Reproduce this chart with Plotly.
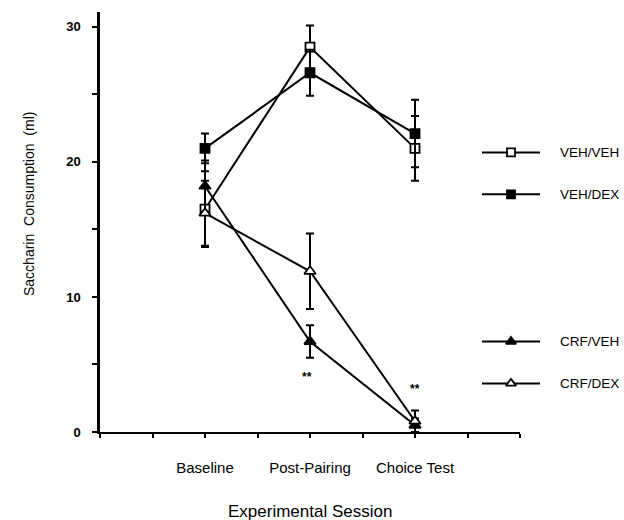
import plotly.graph_objects as go

sessions = ["Baseline", "Post-Pairing", "Choice Test"]
session_x = [1, 2, 3]

veh_veh = [16.5, 28.5, 21.0]
veh_veh_err = [2.8, 1.6, 2.4]
veh_dex = [21.0, 26.6, 22.1]
veh_dex_err = [1.1, 1.7, 2.5]
crf_veh = [18.2, 6.7, 0.5]
crf_veh_err = [1.9, 1.2, 0.5]
crf_dex = [16.2, 11.9, 0.8]
crf_dex_err = [2.4, 2.8, 0.8]

series = [
    ("VEH/VEH", veh_veh, veh_veh_err, "square", "white", 9),
    ("VEH/DEX", veh_dex, veh_dex_err, "square", "black", 9),
    ("CRF/VEH", crf_veh, crf_veh_err, "triangle-up", "black", 10),
    ("CRF/DEX", crf_dex, crf_dex_err, "triangle-up", "white", 10),
]
legend_y = [20.7, 17.6, 6.7, 3.6]
sig_marks = [(1.97, 4.1, "**"), (3.0, 3.2, "**")]

FONT = "Liberation Sans, Arial, sans-serif"
fig = go.Figure()

for name, vals, err, sym, fill, size in series:
    fig.add_trace(go.Scatter(
        x=session_x, y=vals, mode="lines+markers", name=name,
        line=dict(color="black", width=2),
        marker=dict(symbol=sym, size=size, color=fill, line=dict(color="black", width=1.8)),
        error_y=dict(type="data", array=err, visible=True, color="black", thickness=2, width=4),
        showlegend=False,
    ))

W, H = 624, 520
L, R, T = 100, 0, 12
PH = 420
B = H - T - PH
pw = W - L - R

# custom legend on overlay axes
for (name, vals, err, sym, fill, size), ly in zip(series, legend_y):
    fig.add_trace(go.Scatter(
        x=[0, 1], y=[ly, ly], mode="lines", xaxis="x2", yaxis="y2",
        line=dict(color="black", width=2), showlegend=False, hoverinfo="skip"))
    fig.add_trace(go.Scatter(
        x=[0.5], y=[ly], mode="markers", xaxis="x2", yaxis="y2",
        marker=dict(symbol=sym, size=size - 1, color=fill, line=dict(color="black", width=1.8)),
        showlegend=False, hoverinfo="skip"))
    fig.add_annotation(x=(558 - L) / pw, y=ly, xref="paper", yref="y", text=name, showarrow=False,
                       xanchor="left", yanchor="middle", font=dict(size=13.5, color="black", family=FONT))

for sx, sy, st in sig_marks:
    fig.add_annotation(x=sx, y=sy, text=st, showarrow=False,
                       font=dict(size=12, color="black", family=FONT, weight="bold"))

fig.update_layout(
    width=W, height=H, margin=dict(l=L, r=R, t=T, b=B, autoexpand=False),
    paper_bgcolor="white", plot_bgcolor="white",
    font=dict(family=FONT, color="black"),
    xaxis=dict(domain=[0, 420 / pw], range=[0, 4],
               tickvals=[0, 0.5, 1, 1.5, 2, 2.5, 3, 3.5, 4],
               ticktext=["", "", sessions[0], "", sessions[1], "", sessions[2], "", ""],
               ticks="outside", ticklen=4, tickwidth=1.5, tickcolor="black",
               ticklabelstandoff=17,
               showline=True, linecolor="black", linewidth=2, showgrid=False, zeroline=False,
               tickfont=dict(size=15, color="black")),
    yaxis=dict(range=[0, 31.1], tickvals=[0, 5, 10, 15, 20, 25, 30],
               ticktext=["0", "", "10", "", "20", "", "30"],
               ticks="outside", ticklen=5, tickwidth=1.5, tickcolor="black",
               showline=True, linecolor="black", linewidth=2.5, showgrid=False, zeroline=False,
               tickfont=dict(size=13, color="black", weight="bold"), ticklabelstandoff=9),
    xaxis2=dict(domain=[(482 - L) / pw, (540 - L) / pw], range=[0, 1], visible=False, anchor="y2"),
    yaxis2=dict(range=[0, 31.1], overlaying="y", visible=False, anchor="x2"),
)
fig.add_annotation(x=(19 - L) / pw, y=(T + PH - 204) / PH, xref="paper", yref="paper",
                   text="Saccharin  Consumption  (ml)",
                   textangle=-90, showarrow=False, font=dict(size=14, color="black", family=FONT))
fig.add_annotation(x=(310 - L) / pw, y=-79 / PH, xref="paper", yref="paper",
                   text="Experimental Session", showarrow=False, yanchor="middle",
                   font=dict(size=17, color="black", family=FONT))

fig.write_html("out.html", config={"displayModeBar": False},
               post_script="document.body.style.margin='0';document.body.style.overflow='hidden';")
